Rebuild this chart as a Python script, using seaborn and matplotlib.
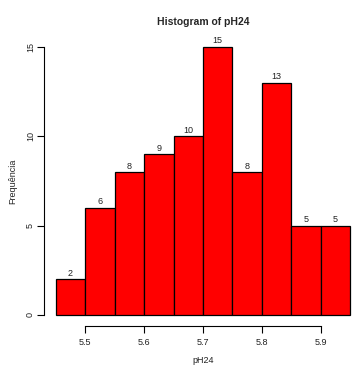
import matplotlib
matplotlib.use("Agg")
import matplotlib.pyplot as plt
import seaborn as sns
import numpy as np

# Data
bin_edges = [5.45, 5.50, 5.55, 5.60, 5.65, 5.70, 5.75, 5.80, 5.85, 5.90, 5.95]
bin_centers = [5.475, 5.525, 5.575, 5.625, 5.675, 5.725, 5.775, 5.825, 5.875, 5.925]
counts = [2, 6, 8, 9, 10, 15, 8, 13, 5, 5]
x_ticks = [5.5, 5.6, 5.7, 5.8, 5.9]
y_ticks = [0, 5, 10, 15]

sns.set_style("white")
plt.rcParams['font.family'] = ['Liberation Sans', 'DejaVu Sans']

fig = plt.figure(figsize=(3.56, 3.67), dpi=100)
ax = fig.add_axes([0.1236, 0.1125, 0.893, 0.789])

sns.histplot(x=bin_centers, weights=counts, bins=bin_edges, ax=ax,
             color="#ff0000", edgecolor="black", linewidth=0.9, alpha=1.0)

ax.bar_label(ax.containers[0], labels=[str(c) for c in counts], fontsize=6.5,
             padding=1, color="#222222")

ax.set_xlim(5.43, 5.97)
ax.set_ylim(-0.6, 15.6)
ax.set_xticks(x_ticks)
ax.set_xticklabels([str(t) for t in x_ticks])
ax.set_yticks(y_ticks)
ax.set_yticklabels([str(t) for t in y_ticks], rotation=90, va="center")

for s in ["top", "right"]:
    ax.spines[s].set_visible(False)
ax.spines["bottom"].set_bounds(5.5, 5.9)
ax.spines["left"].set_bounds(0, 15)
for s in ["bottom", "left"]:
    ax.spines[s].set_color("black")
    ax.spines[s].set_linewidth(0.8)

ax.tick_params(axis="both", which="both", direction="out", length=5, width=0.8,
               color="black", labelsize=6.5, labelcolor="#222222",
               bottom=True, left=True)
ax.tick_params(axis="x", pad=4)
ax.tick_params(axis="y", pad=1.5)

ax.set_xlabel("pH24", fontsize=6.5, color="#222222", labelpad=6)
ax.set_ylabel("Frequência", fontsize=6.5, color="#222222", labelpad=6)
ax.set_title("Histogram of pH24", fontsize=7.5, fontweight="bold", pad=8)
ax.grid(False)

fig.savefig("out.png", dpi=100)
